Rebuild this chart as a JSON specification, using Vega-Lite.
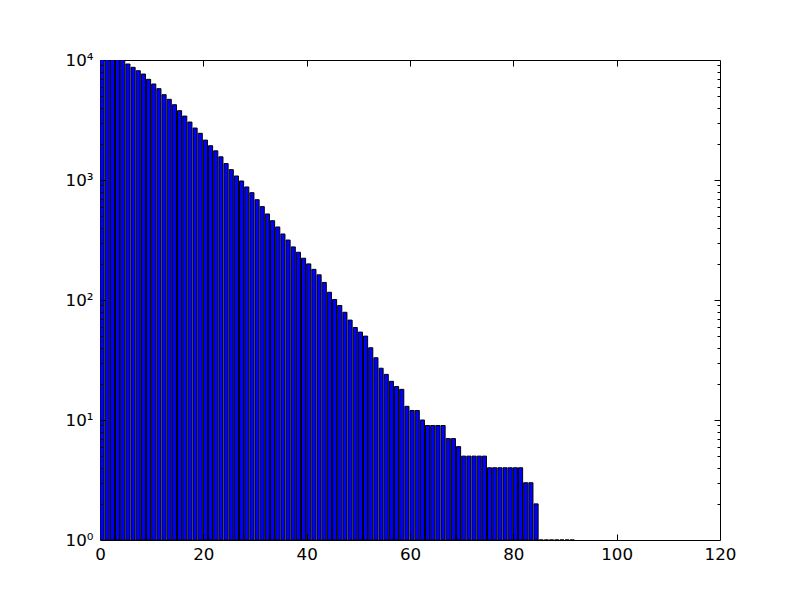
{
  "$schema": "https://vega.github.io/schema/vega-lite/v6.json",
  "width": 620,
  "height": 480,
  "autosize": "none",
  "padding": {"left": 100, "top": 60, "right": 80, "bottom": 60},
  "background": "white",
  "data": {
    "values": [
      {"i": 0, "v": 13000}, {"i": 1, "v": 12300}, {"i": 2, "v": 11500}, {"i": 3, "v": 10700},
      {"i": 4, "v": 10000}, {"i": 5, "v": 9260}, {"i": 6, "v": 8690}, {"i": 7, "v": 8140},
      {"i": 8, "v": 7640}, {"i": 9, "v": 6900}, {"i": 10, "v": 6310}, {"i": 11, "v": 5770},
      {"i": 12, "v": 5140}, {"i": 13, "v": 4700}, {"i": 14, "v": 4240}, {"i": 15, "v": 3780},
      {"i": 16, "v": 3410}, {"i": 17, "v": 3040}, {"i": 18, "v": 2710}, {"i": 19, "v": 2450},
      {"i": 20, "v": 2150}, {"i": 21, "v": 1930}, {"i": 22, "v": 1750}, {"i": 23, "v": 1560},
      {"i": 24, "v": 1370}, {"i": 25, "v": 1220}, {"i": 26, "v": 1080}, {"i": 27, "v": 981},
      {"i": 28, "v": 875}, {"i": 29, "v": 784}, {"i": 30, "v": 685}, {"i": 31, "v": 600},
      {"i": 32, "v": 521}, {"i": 33, "v": 458}, {"i": 34, "v": 406}, {"i": 35, "v": 355},
      {"i": 36, "v": 316}, {"i": 37, "v": 277}, {"i": 38, "v": 250}, {"i": 39, "v": 223},
      {"i": 40, "v": 200}, {"i": 41, "v": 180}, {"i": 42, "v": 162}, {"i": 43, "v": 140},
      {"i": 44, "v": 116}, {"i": 45, "v": 101}, {"i": 46, "v": 90}, {"i": 47, "v": 79},
      {"i": 48, "v": 68}, {"i": 49, "v": 59}, {"i": 50, "v": 54}, {"i": 51, "v": 50},
      {"i": 52, "v": 40}, {"i": 53, "v": 33}, {"i": 54, "v": 27}, {"i": 55, "v": 24},
      {"i": 56, "v": 21}, {"i": 57, "v": 19}, {"i": 58, "v": 18}, {"i": 59, "v": 13},
      {"i": 60, "v": 12}, {"i": 61, "v": 12}, {"i": 62, "v": 10}, {"i": 63, "v": 9},
      {"i": 64, "v": 9}, {"i": 65, "v": 9}, {"i": 66, "v": 9}, {"i": 67, "v": 7},
      {"i": 68, "v": 7}, {"i": 69, "v": 6}, {"i": 70, "v": 5}, {"i": 71, "v": 5},
      {"i": 72, "v": 5}, {"i": 73, "v": 5}, {"i": 74, "v": 5}, {"i": 75, "v": 4},
      {"i": 76, "v": 4}, {"i": 77, "v": 4}, {"i": 78, "v": 4}, {"i": 79, "v": 4},
      {"i": 80, "v": 4}, {"i": 81, "v": 4}, {"i": 82, "v": 3}, {"i": 83, "v": 3},
      {"i": 84, "v": 2}, {"i": 85, "v": 1}, {"i": 86, "v": 1}, {"i": 87, "v": 1},
      {"i": 88, "v": 1}, {"i": 89, "v": 1}, {"i": 90, "v": 1}, {"i": 91, "v": 1}
    ]
  },
  "transform": [{"calculate": "datum.i + 0.8", "as": "i_end"}],
  "layer": [
    {
      "mark": {"type": "bar", "fill": "#0000ff", "stroke": "black", "strokeWidth": 1, "clip": true},
      "encoding": {
        "x": {
          "field": "i", "type": "quantitative",
          "scale": {"domain": [0, 120], "nice": false, "zero": false},
          "axis": {"orient": "bottom", "values": [0, 20, 40, 60, 80, 100, 120], "ticks": false, "labelPadding": 6, "labelFlush": false}
        },
        "x2": {"field": "i_end"},
        "y": {
          "field": "v", "type": "quantitative",
          "scale": {"type": "log", "domain": [1, 10000], "nice": false},
          "axis": {
            "orient": "left", "values": [1, 10, 100, 1000, 10000], "ticks": false, "labelPadding": 7,
            "labelExpr": "'10' + ['⁰','¹','²','³','⁴'][round(log(datum.value) / LN10)]"
          }
        },
        "y2": {"datum": 1}
      }
    },
    {
      "mark": {"type": "point", "opacity": 0},
      "encoding": {
        "x": {"field": "i", "type": "quantitative",
          "axis": {"orient": "bottom", "values": [20, 40, 60, 80, 100], "labels": false, "tickSize": -6, "zindex": 2}},
        "y": {"field": "v", "type": "quantitative",
          "axis": {"orient": "left", "values": [10, 100, 1000], "labels": false, "tickSize": -6, "zindex": 2}}
      }
    },
    {
      "mark": {"type": "point", "opacity": 0},
      "encoding": {
        "x": {"field": "i", "type": "quantitative",
          "axis": {"orient": "top", "values": [20, 40, 60, 80, 100], "labels": false, "tickSize": -6, "zindex": 2}},
        "y": {"field": "v", "type": "quantitative",
          "axis": {"orient": "left", "labels": false, "tickSize": -3, "zindex": 2,
            "values": [2, 3, 4, 5, 6, 7, 8, 9, 20, 30, 40, 50, 60, 70, 80, 90, 200, 300, 400, 500, 600, 700, 800, 900, 2000, 3000, 4000, 5000, 6000, 7000, 8000, 9000]}}
      }
    },
    {
      "mark": {"type": "point", "opacity": 0},
      "encoding": {
        "x": {"field": "i", "type": "quantitative", "axis": null},
        "y": {"field": "v", "type": "quantitative",
          "axis": {"orient": "right", "values": [10, 100, 1000], "labels": false, "tickSize": -6, "zindex": 2}}
      }
    },
    {
      "mark": {"type": "point", "opacity": 0},
      "encoding": {
        "x": {"field": "i", "type": "quantitative", "axis": null},
        "y": {"field": "v", "type": "quantitative",
          "axis": {"orient": "right", "labels": false, "tickSize": -3, "zindex": 2,
            "values": [2, 3, 4, 5, 6, 7, 8, 9, 20, 30, 40, 50, 60, 70, 80, 90, 200, 300, 400, 500, 600, 700, 800, 900, 2000, 3000, 4000, 5000, 6000, 7000, 8000, 9000]}}
      }
    }
  ],
  "resolve": {"axis": {"x": "independent", "y": "independent"}},
  "config": {
    "view": {"stroke": "black", "strokeWidth": 1},
    "axis": {
      "domain": false, "grid": false, "title": null,
      "labelFont": "DejaVu Sans", "labelFontSize": 16.7, "labelColor": "black",
      "tickColor": "black", "tickWidth": 1
    },
    "axisLeft": {"labelBaseline": "middle"}
  }
}
